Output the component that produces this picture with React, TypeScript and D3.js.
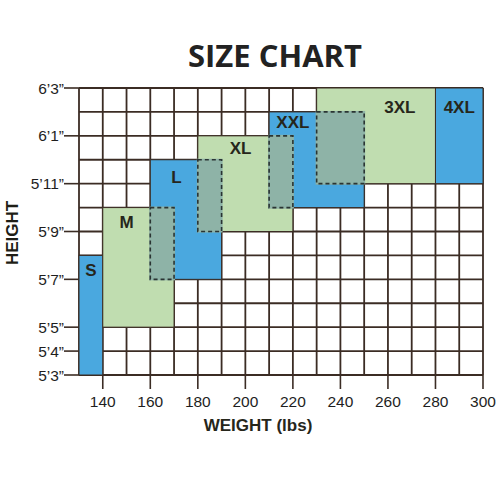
import * as d3 from "d3";

// weight ranges (lbs) and height ranges (inches) for each size
const sizes = ["S", "M", "L", "XL", "XXL", "3XL", "4XL"];
const weightFrom = [130, 140, 160, 180, 210, 230, 280];
const weightTo = [140, 170, 190, 220, 250, 280, 300];
const heightFrom = [63, 65, 67, 69, 70, 71, 71];
const heightTo = [68, 70, 72, 73, 74, 75, 75];
const sizeKind = ["blue", "green", "blue", "green", "blue", "green", "blue"];

// where each size name sits (lbs, inches)
const labelWeight = [135, 150, 171, 198, 220, 265, 290];
const labelHeight = [67.4, 69.4, 71.3, 72.5, 73.6, 74.2, 74.2];

// overlapping zones between neighbouring sizes
const overlapWeightFrom = [160, 180, 210, 230];
const overlapWeightTo = [170, 190, 220, 250];
const overlapHeightFrom = [67, 69, 70, 71];
const overlapHeightTo = [70, 72, 73, 74];

const weightTicks = [140, 160, 180, 200, 220, 240, 260, 280, 300];
const heightTicks = [75, 73, 71, 69, 67, 65, 64, 63];
const heightTickLabels = ["6’3”", "6’1”", "5’11”", "5’9”", "5’7”", "5’5”", "5’4”", "5’3”"];

const colors = { blue: "#4aa8df", green: "#c0ddb0", overlap: "#8eb3a7" };
const lineColor = "#3b2c24";

const App = () => {
  const x = d3.scaleLinear().domain([130, 300]).range([79, 483]);
  const y = d3.scaleLinear().domain([63, 75]).range([375, 88]);

  const gridX = d3.range(130, 301, 10);
  const gridY = d3.range(63, 76, 1);

  return (
    <svg
      width={500}
      height={500}
      style={{ position: "absolute", left: 0, top: 0, background: "#fff" }}
      fontFamily="'Liberation Sans', Arial, sans-serif"
    >
      <text
        x={275}
        y={67}
        textAnchor="middle"
        fontFamily="'Open Sans', sans-serif"
        fontWeight="bold"
        fontSize={31}
        fill="#222"
      >
        SIZE CHART
      </text>

      {/* grid */}
      <g stroke={lineColor} strokeWidth={1.8}>
        {gridX.map((v) => (
          <line key={"gx" + v} x1={x(v)} x2={x(v)} y1={y(63)} y2={y(75)} />
        ))}
        {gridY.map((v) => (
          <line key={"gy" + v} x1={x(130)} x2={x(300)} y1={y(v)} y2={y(v)} />
        ))}
      </g>

      {/* size blocks */}
      {sizes.map((s, i) => (
        <rect
          key={s}
          x={x(weightFrom[i])}
          y={y(heightTo[i])}
          width={x(weightTo[i]) - x(weightFrom[i])}
          height={y(heightFrom[i]) - y(heightTo[i])}
          fill={colors[sizeKind[i]]}
          stroke={lineColor}
          strokeWidth={1}
        />
      ))}

      {/* overlaps */}
      {overlapWeightFrom.map((w, i) => {
        const rx = x(w);
        const ry = y(overlapHeightTo[i]);
        const rw = x(overlapWeightTo[i]) - rx;
        const rh = y(overlapHeightFrom[i]) - ry;
        return (
          <g key={"ov" + i}>
            <rect x={rx} y={ry} width={rw} height={rh} fill={colors.overlap} stroke={colors.overlap} strokeWidth={2} />
            <rect
              x={rx}
              y={ry}
              width={rw}
              height={rh}
              fill="none"
              stroke="#2a3433"
              strokeWidth={1.6}
              strokeDasharray="4 3"
            />
          </g>
        );
      })}

      {/* size names */}
      {sizes.map((s, i) => (
        <text
          key={"l" + s}
          x={x(labelWeight[i])}
          y={y(labelHeight[i])}
          dy="0.36em"
          textAnchor="middle"
          fontWeight="bold"
          fontSize={17}
          fill="#26261b"
        >
          {s}
        </text>
      ))}

      {/* x axis */}
      <g>
        {weightTicks.map((v) => (
          <g key={"xt" + v}>
            <line x1={x(v)} x2={x(v)} y1={y(63)} y2={y(63) + 14} stroke={lineColor} strokeWidth={1.6} />
            <text x={x(v)} y={407} textAnchor="middle" fontSize={15.5} fill="#1e1e1e">
              {v}
            </text>
          </g>
        ))}
      </g>

      {/* y axis */}
      <g>
        {heightTicks.map((v, i) => (
          <g key={"yt" + v}>
            <line x1={x(130) - 15} x2={x(130)} y1={y(v)} y2={y(v)} stroke={lineColor} strokeWidth={1.6} />
            <text x={x(130) - 15} y={y(v)} dy="0.36em" textAnchor="end" fontSize={15.5} fill="#1e1e1e">
              {heightTickLabels[i]}
            </text>
          </g>
        ))}
      </g>

      <text x={258} y={431} textAnchor="middle" fontWeight="bold" fontSize={17} fill="#26261b">
        WEIGHT (lbs)
      </text>
      <text
        transform="translate(18,233) rotate(-90)"
        textAnchor="middle"
        fontWeight="bold"
        fontSize={17}
        fill="#1e1e16"
      >
        HEIGHT
      </text>
    </svg>
  );
};

export default App;
